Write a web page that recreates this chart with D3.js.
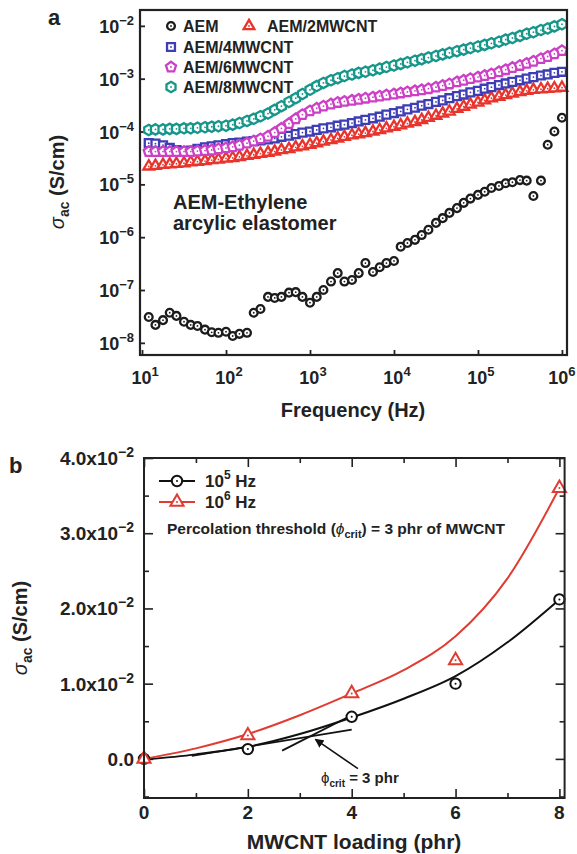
<!DOCTYPE html>
<html>
<head>
<meta charset="utf-8">
<script src="https://cdn.jsdelivr.net/npm/d3@7"></script>
<style>
  body { margin: 0; background: #fff; }
  svg { display: block; font-family: "Liberation Sans", Arial, sans-serif; font-weight: bold; }
</style>
</head>
<body>
<div id="chart"></div>
<script>
// ---------- panel a : log10 values ----------
const logFreq = [1.08, 1.16, 1.25, 1.33, 1.41, 1.50, 1.58, 1.66, 1.75, 1.83, 1.91, 2.00,
  2.08, 2.16, 2.25, 2.33, 2.41, 2.50, 2.58, 2.66, 2.75, 2.83, 2.91, 3.00,
  3.08, 3.16, 3.25, 3.33, 3.41, 3.50, 3.58, 3.66, 3.75, 3.83, 3.91, 4.00,
  4.08, 4.16, 4.25, 4.33, 4.41, 4.50, 4.58, 4.66, 4.75, 4.83, 4.91, 5.00,
  5.08, 5.16, 5.25, 5.33, 5.41, 5.50, 5.58, 5.66, 5.75, 5.83, 5.91, 6.00];

const aem = [-7.51, -7.66, -7.57, -7.43, -7.49, -7.60, -7.66, -7.68, -7.75, -7.80, -7.81, -7.79,
  -7.87, -7.83, -7.81, -7.43, -7.36, -7.13, -7.15, -7.13, -7.05, -7.04, -7.13, -7.24,
  -7.13, -7.00, -6.84, -6.68, -6.84, -6.81, -6.68, -6.49, -6.66, -6.57, -6.49, -6.45,
  -6.18, -6.11, -6.05, -5.96, -5.86, -5.73, -5.64, -5.54, -5.45, -5.35, -5.27, -5.20,
  -5.14, -5.07, -5.03, -4.98, -4.96, -4.92, -4.93, -5.22, -4.93, -4.25, -4.00, -3.74];

const aem2 = [-4.66, -4.65, -4.63, -4.62, -4.61, -4.60, -4.58, -4.57, -4.56, -4.54, -4.53, -4.51,
  -4.50, -4.48, -4.46, -4.44, -4.42, -4.40, -4.38, -4.35, -4.33, -4.30, -4.28, -4.25,
  -4.22, -4.19, -4.16, -4.13, -4.10, -4.07, -4.05, -4.03, -4.00, -3.97, -3.94, -3.91,
  -3.88, -3.85, -3.82, -3.78, -3.74, -3.70, -3.66, -3.62, -3.57, -3.53, -3.49, -3.45,
  -3.41, -3.37, -3.34, -3.31, -3.28, -3.25, -3.23, -3.21, -3.20, -3.19, -3.18, -3.17];

const aem4 = [-4.22, -4.23, -4.26, -4.31, -4.35, -4.37, -4.36, -4.33, -4.30, -4.28, -4.26, -4.24,
  -4.22, -4.21, -4.19, -4.18, -4.17, -4.15, -4.13, -4.10, -4.08, -4.05, -4.02, -4.00,
  -3.97, -3.94, -3.92, -3.89, -3.87, -3.84, -3.81, -3.78, -3.75, -3.72, -3.68, -3.65,
  -3.62, -3.58, -3.55, -3.51, -3.48, -3.44, -3.41, -3.37, -3.33, -3.30, -3.26, -3.23,
  -3.19, -3.16, -3.12, -3.09, -3.06, -3.03, -3.00, -2.97, -2.94, -2.92, -2.89, -2.87];

const aem6 = [-4.38, -4.38, -4.38, -4.38, -4.38, -4.38, -4.38, -4.37, -4.36, -4.35, -4.33, -4.31,
  -4.29, -4.26, -4.22, -4.18, -4.14, -4.09, -4.02, -3.94, -3.85, -3.76, -3.68, -3.61,
  -3.56, -3.52, -3.48, -3.45, -3.43, -3.41, -3.39, -3.37, -3.35, -3.33, -3.31, -3.29,
  -3.27, -3.25, -3.23, -3.21, -3.19, -3.16, -3.13, -3.10, -3.06, -3.03, -3.00, -2.97,
  -2.94, -2.91, -2.87, -2.83, -2.79, -2.75, -2.71, -2.67, -2.62, -2.58, -2.53, -2.47];

const aem8 = [-3.97, -3.96, -3.96, -3.95, -3.95, -3.94, -3.94, -3.93, -3.92, -3.91, -3.90, -3.89,
  -3.87, -3.84, -3.80, -3.76, -3.71, -3.66, -3.59, -3.52, -3.44, -3.37, -3.29, -3.21,
  -3.14, -3.08, -3.03, -2.99, -2.95, -2.92, -2.89, -2.87, -2.84, -2.81, -2.78, -2.75,
  -2.72, -2.69, -2.66, -2.63, -2.60, -2.57, -2.54, -2.51, -2.48, -2.45, -2.42, -2.39,
  -2.36, -2.33, -2.30, -2.26, -2.23, -2.19, -2.15, -2.12, -2.08, -2.05, -2.01, -1.97];

const seriesNames = ["AEM", "AEM/2MWCNT", "AEM/4MWCNT", "AEM/6MWCNT", "AEM/8MWCNT"];
const seriesColors = ["#1c1c1c", "#e8342c", "#3d3db6", "#cc40c6", "#16968a"];
const xExponents = [1, 2, 3, 4, 5, 6];
const yExponents = [-8, -7, -6, -5, -4, -3, -2];

// ---------- panel b ----------
const loading = [0, 2, 4, 6, 8];
const sigma105 = [0.0000, 0.0013, 0.0056, 0.0100, 0.0212];
const sigma106 = [0.0000, 0.0031, 0.0087, 0.0131, 0.0360];
const fitLoading = [0, 1, 2, 3, 4, 5, 6, 7, 8];
const fit105 = [-0.0001, 0.0006, 0.0016, 0.0033, 0.0055, 0.0080, 0.0110, 0.0155, 0.0212];
const fit106 = [0.0000, 0.0014, 0.0033, 0.0058, 0.0087, 0.0118, 0.0163, 0.0240, 0.0360];
const yTicksB = [0, 0.01, 0.02, 0.03, 0.04];
const yTickTextB = ["0.0", "1.0x10", "2.0x10", "3.0x10", "4.0x10"];
const yMinorB = [-0.005, 0.005, 0.015, 0.025, 0.035];
const xTicksB = [0, 2, 4, 6, 8];
const xMinorB = [1, 3, 5, 7];
const tangentLow = [[0.92, 0.0004], [4.0, 0.0039]];
const tangentHigh = [[2.66, 0.0011], [3.97, 0.0057]];
const arrowPts = [[4.12, -0.0013], [3.3, 0.0026]];

const width = 577, height = 854;

const svg = d3.select("#chart")
  .append("svg")
  .attr("width", width)
  .attr("height", height);

svg.append("defs")
  .append("marker")
    .attr("id", "head")
    .attr("viewBox", "0 0 10 10")
    .attr("refX", 9)
    .attr("refY", 5)
    .attr("markerWidth", 9)
    .attr("markerHeight", 9)
    .attr("markerUnits", "userSpaceOnUse")
    .attr("orient", "auto")
  .append("path")
    .attr("d", "M0,0L10,5L0,10Z")
    .attr("fill", "#111");

// regular polygon path centred on 0,0
const polygon = (n, r, rot) => {
  const pts = d3.range(n).map(i => {
    const a = rot + i * 2 * Math.PI / n;
    return [r * Math.sin(a), -r * Math.cos(a)];
  });
  return "M" + pts.join("L") + "Z";
};
const shapes = [
  d3.symbol(d3.symbolCircle, Math.PI * 3.9 * 3.9)(),
  polygon(3, 6.2, 0),
  polygon(4, 5.6, Math.PI / 4),
  polygon(5, 5.3, 0),
  polygon(6, 5.2, 0)
];

const supText = (sel, base, exp, size) => {
  sel.append("tspan").text(base);
  sel.append("tspan")
    .attr("dy", -8)
    .style("font-size", size + "px")
    .text(exp);
};

// =================== panel a ===================
const xA = d3.scaleLog().domain([10 ** 0.976, 10 ** 6.06]).range([140, 567]);
const yA = d3.scaleLog().domain([10 ** -8.23, 10 ** -1.70]).range([355, 10]);

const panelA = svg.append("g");

panelA.append("g")
  .attr("transform", "translate(140,0)")
  .call(d3.axisLeft(yA).tickValues(yExponents.map(e => 10 ** e)).tickSize(-5).tickFormat(""))
  .call(g => g.select(".domain").remove())
  .selectAll("line").attr("stroke", "#222").attr("stroke-width", 1.8);

panelA.append("g")
  .attr("transform", "translate(0,355)")
  .call(d3.axisBottom(xA).tickValues(xExponents.map(e => 10 ** e)).tickSize(-5).tickFormat(""))
  .call(g => g.select(".domain").remove())
  .selectAll("line").attr("stroke", "#222").attr("stroke-width", 1.8);

yExponents.forEach(e => {
  const t = panelA.append("text")
    .attr("x", 134)
    .attr("y", yA(10 ** e) + 7)
    .attr("text-anchor", "end")
    .style("font-size", "18px")
    .attr("fill", "#222");
  supText(t, "10", "\u2212" + (-e), 13);
});

xExponents.forEach(e => {
  const t = panelA.append("text")
    .attr("x", xA(10 ** e) + (e === 6 ? 0 : 3))
    .attr("y", 384)
    .attr("text-anchor", "middle")
    .style("font-size", "18px")
    .attr("fill", "#222");
  supText(t, "10", e, 13);
});

panelA.append("text")
  .attr("x", 353)
  .attr("y", 417)
  .attr("text-anchor", "middle")
  .style("font-size", "20px")
  .attr("fill", "#222")
  .text("Frequency (Hz)");

const yTitleA = panelA.append("text")
  .attr("transform", "translate(64,182) rotate(-90)")
  .attr("text-anchor", "middle")
  .style("font-size", "20px")
  .attr("fill", "#222");
yTitleA.append("tspan").style("font-style", "italic").style("font-weight", "normal").text("\u03c3");
yTitleA.append("tspan").attr("dy", 5).style("font-size", "14px").text("ac");
yTitleA.append("tspan").attr("dy", -5).text(" (S/cm)");

panelA.append("text")
  .attr("x", 48).attr("y", 25)
  .style("font-size", "22px")
  .attr("fill", "#222")
  .text("a");

// data markers, drawn series by series
const allSeries = [aem, aem2, aem4, aem6, aem8];
allSeries.forEach((vals, i) => {
  const pts = logFreq.map((f, j) => ({ f: 10 ** f, s: 10 ** vals[j] }));
  const g = panelA.append("g");
  const m = g.selectAll("g")
    .data(pts)
    .join("g")
    .attr("transform", d => `translate(${xA(d.f)},${yA(d.s)})`);
  m.append("path")
    .attr("d", shapes[i])
    .attr("fill", "#fff")
    .attr("stroke", seriesColors[i])
    .attr("stroke-width", 2.3);
  m.append("circle")
    .attr("r", 0.9)
    .attr("fill", seriesColors[i]);
});

// legend
const legendA = [
  { x: 171, y: 26 }, { x: 249, y: 26 }, { x: 171, y: 47 }, { x: 171, y: 67 }, { x: 171, y: 87 }
];
seriesNames.forEach((name, i) => {
  const p = legendA[i];
  panelA.append("path")
    .attr("transform", `translate(${p.x},${p.y})`)
    .attr("d", shapes[i])
    .attr("fill", "#fff")
    .attr("stroke", seriesColors[i])
    .attr("stroke-width", 2.3);
  panelA.append("circle")
    .attr("cx", p.x).attr("cy", p.y).attr("r", 0.9)
    .attr("fill", seriesColors[i]);
  panelA.append("text")
    .attr("x", p.x + (i === 1 ? 18 : 12))
    .attr("y", p.y + 6)
    .style("font-size", "16px")
    .attr("fill", "#222")
    .text(name);
});

panelA.append("text")
  .attr("x", 173).attr("y", 209)
  .style("font-size", "20px")
  .attr("fill", "#222")
  .text("AEM-Ethylene");
panelA.append("text")
  .attr("x", 173).attr("y", 230)
  .style("font-size", "20px")
  .attr("fill", "#222")
  .text("arcylic elastomer");

panelA.append("rect")
  .attr("x", 140).attr("y", 10)
  .attr("width", 427).attr("height", 345)
  .attr("fill", "none")
  .attr("stroke", "#222")
  .attr("stroke-width", 2.2);

// =================== panel b ===================
const xB = d3.scaleLinear().domain([0, 8.1]).range([144, 564.6]);
const yB = d3.scaleLinear().domain([-0.0052, 0.04]).range([798, 458]);

const panelB = svg.append("g");

const tickAxis = (axis, values, size, tr) => {
  panelB.append("g")
    .attr("transform", tr)
    .call(axis.tickValues(values).tickSize(size).tickFormat(""))
    .call(g => g.select(".domain").remove())
    .selectAll("line").attr("stroke", "#222").attr("stroke-width", 1.6);
};
tickAxis(d3.axisLeft(yB), yTicksB, -9, "translate(144,0)");
tickAxis(d3.axisLeft(yB), yMinorB, -5, "translate(144,0)");
tickAxis(d3.axisRight(yB), yTicksB, -9, "translate(564.6,0)");
tickAxis(d3.axisRight(yB), yMinorB, -5, "translate(564.6,0)");
tickAxis(d3.axisBottom(xB), xTicksB, -9, "translate(0,798)");
tickAxis(d3.axisBottom(xB), xMinorB, -5, "translate(0,798)");
tickAxis(d3.axisTop(xB), xTicksB, -9, "translate(0,458)");
tickAxis(d3.axisTop(xB), xMinorB, -5, "translate(0,458)");

yTicksB.forEach((v, i) => {
  const t = panelB.append("text")
    .attr("x", 134)
    .attr("y", yB(v) + 7)
    .attr("text-anchor", "end")
    .style("font-size", "19px")
    .attr("fill", "#222");
  if (v === 0) t.text(yTickTextB[i]);
  else supText(t, yTickTextB[i], "\u22122", 14);
});

xTicksB.forEach(v => {
  panelB.append("text")
    .attr("x", xB(v))
    .attr("y", 819)
    .attr("text-anchor", "middle")
    .style("font-size", "19px")
    .attr("fill", "#222")
    .text(v);
});

panelB.append("text")
  .attr("x", 354).attr("y", 849)
  .attr("text-anchor", "middle")
  .style("font-size", "21px")
  .attr("fill", "#222")
  .text("MWCNT loading (phr)");

const yTitleB = panelB.append("text")
  .attr("transform", "translate(27,628) rotate(-90)")
  .attr("text-anchor", "middle")
  .style("font-size", "20px")
  .attr("fill", "#222");
yTitleB.append("tspan").style("font-style", "italic").style("font-weight", "normal").text("\u03c3");
yTitleB.append("tspan").attr("dy", 5).style("font-size", "14px").text("ac");
yTitleB.append("tspan").attr("dy", -5).text(" (S/cm)");

panelB.append("text")
  .attr("x", 9).attr("y", 473)
  .style("font-size", "22px")
  .attr("fill", "#222")
  .text("b");

// fitted curves
const fitLine = d3.line()
  .x(d => xB(d[0]))
  .y(d => yB(d[1]))
  .curve(d3.curveMonotoneX);

panelB.append("path")
  .attr("d", fitLine(fitLoading.map((x, i) => [x, fit105[i]])))
  .attr("fill", "none")
  .attr("stroke", "#111")
  .attr("stroke-width", 2);

panelB.append("path")
  .attr("d", fitLine(fitLoading.map((x, i) => [x, fit106[i]])))
  .attr("fill", "none")
  .attr("stroke", "#e03c31")
  .attr("stroke-width", 2);

// percolation tangents and arrow
[tangentLow, tangentHigh].forEach(seg => {
  panelB.append("path")
    .attr("d", d3.line().x(d => xB(d[0])).y(d => yB(d[1]))(seg))
    .attr("stroke", "#111")
    .attr("stroke-width", 1.8);
});
panelB.append("path")
  .attr("d", d3.line().x(d => xB(d[0])).y(d => yB(d[1]))(arrowPts))
  .attr("stroke", "#111")
  .attr("stroke-width", 1.6)
  .attr("marker-end", "url(#head)");

// points
const circleShape = d3.symbol(d3.symbolCircle, Math.PI * 5.2 * 5.2)();
const triShape = polygon(3, 7.6, 0);

const drawPoints = (vals, shape, color) => {
  const m = panelB.append("g")
    .selectAll("g")
    .data(loading.map((x, i) => [x, vals[i]]))
    .join("g")
    .attr("transform", d => `translate(${xB(d[0])},${yB(d[1])})`);
  m.append("path")
    .attr("d", shape)
    .attr("fill", "#fff")
    .attr("stroke", color)
    .attr("stroke-width", 2);
  m.append("circle").attr("r", 1).attr("fill", color);
};
drawPoints(sigma105, circleShape, "#111");
drawPoints(sigma106, triShape, "#e03c31");

// legend b
const legendB = [
  { y: 481, shape: circleShape, color: "#111", exp: "5" },
  { y: 502, shape: triShape, color: "#e03c31", exp: "6" }
];
legendB.forEach(d => {
  panelB.append("line")
    .attr("x1", 159).attr("x2", 195)
    .attr("y1", d.y).attr("y2", d.y)
    .attr("stroke", d.color)
    .attr("stroke-width", 2);
  panelB.append("path")
    .attr("transform", `translate(177,${d.y})`)
    .attr("d", d.shape)
    .attr("fill", "#fff")
    .attr("stroke", d.color)
    .attr("stroke-width", 2);
  panelB.append("circle")
    .attr("cx", 177).attr("cy", d.y).attr("r", 1)
    .attr("fill", d.color);
  const t = panelB.append("text")
    .attr("x", 205).attr("y", d.y + 6)
    .style("font-size", "17px")
    .attr("fill", "#222");
  supText(t, "10", d.exp, 12);
  t.append("tspan").attr("dy", 8).text(" Hz");
});

const perc = panelB.append("text")
  .attr("x", 167).attr("y", 534)
  .style("font-size", "15.5px")
  .attr("fill", "#222");
perc.append("tspan").text("Percolation threshold (");
perc.append("tspan").style("font-style", "italic").style("font-weight", "normal").text("\u03d5");
perc.append("tspan").attr("dy", 4).style("font-size", "11px").text("crit");
perc.append("tspan").attr("dy", -4).text(") = 3 phr of MWCNT");

const phi = panelB.append("text")
  .attr("x", 321).attr("y", 783)
  .style("font-size", "15px")
  .attr("fill", "#222");
phi.append("tspan").style("font-weight", "normal").text("\u03d5");
phi.append("tspan").attr("dy", 4).style("font-size", "10px").text("crit");
phi.append("tspan").attr("dy", -4).text(" = 3 phr");

panelB.append("rect")
  .attr("x", 144).attr("y", 458)
  .attr("width", 420.6).attr("height", 340)
  .attr("fill", "none")
  .attr("stroke", "#222")
  .attr("stroke-width", 2);
</script>
</body>
</html>
